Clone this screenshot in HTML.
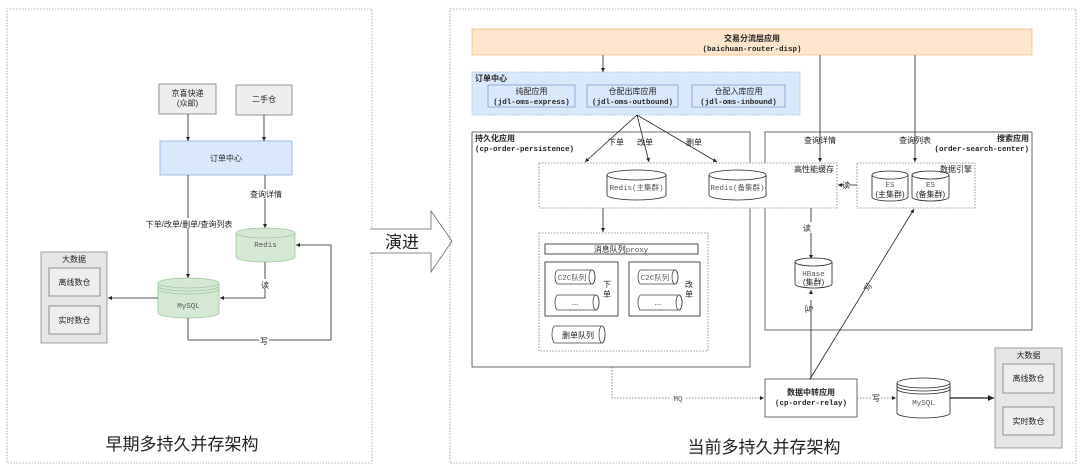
<!DOCTYPE html>
<html><head><meta charset="utf-8"><style>
html,body{margin:0;padding:0;background:#fff}
svg{display:block}
text{font-family:"Liberation Sans","Noto Sans CJK SC",sans-serif;font-size:8px;fill:#222}
.m{font-family:"Liberation Mono","Noto Sans CJK SC",monospace;font-weight:bold;font-size:7.5px}
.g{font-family:"Liberation Mono","Noto Sans CJK SC",monospace;font-size:7.5px;fill:#555}
</style></head><body>
<svg width="1080" height="471" viewBox="0 0 1080 471" xmlns="http://www.w3.org/2000/svg">
<defs>
<marker id="a" markerWidth="6" markerHeight="6" refX="5" refY="3" orient="auto"><path d="M0,0.5 L5,3 L0,5.5z" fill="#222"/></marker>
</defs>
<g fill="none" stroke="#222" stroke-width="0.8">
<!-- LEFT PANEL -->
<rect x="7" y="9" width="365" height="454" stroke="#999" stroke-dasharray="1.5,1.5"/>
<rect x="159" y="84" width="57" height="30" fill="#eee" stroke="#777"/>
<rect x="236" y="85" width="56" height="30" fill="#eee" stroke="#777"/>
<rect x="160" y="141" width="132" height="34" fill="#dae8fc" stroke="#8aaee0"/>
<line x1="188" y1="114" x2="188" y2="141" marker-end="url(#a)"/>
<line x1="264" y1="115" x2="264" y2="141" marker-end="url(#a)"/>
<line x1="188" y1="175" x2="188" y2="278" marker-end="url(#a)"/>
<line x1="265" y1="175" x2="265" y2="228" marker-end="url(#a)"/>
<path d="M236,233 v24 a29.5,5 0 0 0 59,0 v-24" fill="#d5e8d4" stroke="#9cc89a"/>
<ellipse cx="265.5" cy="233" rx="29.5" ry="5" fill="#d5e8d4" stroke="#9cc89a"/>
<path d="M158,283 v30 a30.5,5 0 0 0 61,0 v-30" fill="#d5e8d4" stroke="#9cc89a"/>
<ellipse cx="188.5" cy="283" rx="30.5" ry="5" fill="#d5e8d4" stroke="#9cc89a"/>
<path d="M158,286 a30.5,5 0 0 0 61,0 M158,289 a30.5,5 0 0 0 61,0" stroke="#9cc89a"/>
<path d="M265,262 V298 H220" marker-end="url(#a)"/>
<path d="M188,318 V340 H331 V245 H296" marker-end="url(#a)"/>
<line x1="158" y1="298" x2="108" y2="298" marker-end="url(#a)"/>
<rect x="41" y="252" width="66" height="91" fill="#e6e6e6" stroke="#888"/>
<rect x="49" y="268" width="51" height="28" fill="#eee" stroke="#777"/>
<rect x="49" y="306" width="51" height="28" fill="#eee" stroke="#777"/>
<!-- 演进 arrow -->
<path d="M370,229 H431 V211 L452,241 L431,272 V253 H370" fill="#fff" stroke="#666"/>
<!-- RIGHT PANEL -->
<rect x="450" y="9" width="626" height="454" stroke="#999" stroke-dasharray="1.5,1.5"/>
<rect x="472" y="29" width="560" height="26" fill="#ffe6cc" stroke="#f0c080"/>
<line x1="603" y1="55" x2="603" y2="72" marker-end="url(#a)"/>
<rect x="472" y="72" width="328" height="43" fill="#dae8fc" stroke="#8aaee0" stroke-dasharray="1.5,1.5"/>
<rect x="488" y="85" width="87" height="22" fill="#dae8fc" stroke="#7a9ed0"/>
<rect x="587" y="85" width="91" height="22" fill="#dae8fc" stroke="#7a9ed0"/>
<rect x="692" y="85" width="93" height="22" fill="#dae8fc" stroke="#7a9ed0"/>
<rect x="472" y="132" width="278" height="235" stroke="#444"/>
<rect x="765" y="132" width="267" height="198" stroke="#444"/>
<line x1="637" y1="115" x2="585" y2="162" marker-end="url(#a)"/>
<line x1="637" y1="115" x2="649" y2="162" marker-end="url(#a)"/>
<line x1="637" y1="115" x2="717" y2="162" marker-end="url(#a)"/>
<line x1="820" y1="55" x2="820" y2="162" marker-end="url(#a)"/>
<line x1="915" y1="55" x2="915" y2="162" marker-end="url(#a)"/>
<rect x="539" y="163" width="298" height="45" fill="#fff" stroke="#777" stroke-dasharray="1.5,1.5"/>
<rect x="857" y="163" width="118" height="45" fill="#fff" stroke="#777" stroke-dasharray="1.5,1.5"/>
<path d="M607,175 v20 a29.5,5 0 0 0 59,0 v-20"/><ellipse cx="636.5" cy="175" rx="29.5" ry="5" fill="#fff"/>
<path d="M709,175 v20 a28.5,5 0 0 0 57,0 v-20"/><ellipse cx="737.5" cy="175" rx="28.5" ry="5" fill="#fff"/>
<path d="M872,175 v22 a18,4 0 0 0 36,0 v-22"/><ellipse cx="890" cy="175" rx="18" ry="4" fill="#fff"/>
<path d="M912,175 v22 a18.5,4 0 0 0 37,0 v-22"/><ellipse cx="930.5" cy="175" rx="18.5" ry="4" fill="#fff"/>
<line x1="857" y1="185" x2="849" y2="185"/>
<line x1="843" y1="185" x2="838" y2="185" marker-end="url(#a)"/>
<line x1="603" y1="208" x2="603" y2="232" marker-end="url(#a)"/>
<line x1="811" y1="208" x2="811" y2="222"/>
<line x1="811" y1="233" x2="811" y2="259" marker-end="url(#a)"/>
<path d="M795,262 v22 a18.5,4 0 0 0 37,0 v-22"/><ellipse cx="813.5" cy="262" rx="18.5" ry="4" fill="#fff"/>
<rect x="539" y="233" width="169" height="118" stroke="#777" stroke-dasharray="1.5,1.5"/>
<rect x="545" y="244" width="153" height="10"/>
<rect x="545" y="262" width="73" height="54"/>
<rect x="629" y="262" width="71" height="54"/>
<g stroke="#444">
<path d="M558,270 H592 a3,7 0 0 1 0,14 H558 a3,7 0 0 1 0,-14z"/><ellipse cx="592" cy="277" rx="3" ry="7"/>
<path d="M558,295 H596 a3,7.5 0 0 1 0,15 H558 a3,7.5 0 0 1 0,-15z"/><ellipse cx="596" cy="302.5" rx="3" ry="7.5"/>
<path d="M641,270 H675 a3,7 0 0 1 0,14 H641 a3,7 0 0 1 0,-14z"/><ellipse cx="675" cy="277" rx="3" ry="7"/>
<path d="M641,295 H679 a3,7.5 0 0 1 0,15 H641 a3,7.5 0 0 1 0,-15z"/><ellipse cx="679" cy="302.5" rx="3" ry="7.5"/>
<path d="M555,326 H602 a3,8.5 0 0 1 0,17 H555 a3,8.5 0 0 1 0,-17z"/><ellipse cx="602" cy="334.5" rx="3" ry="8.5"/>
</g>
<rect x="765" y="379" width="92" height="38" fill="#fff" stroke="#444"/>
<line x1="811" y1="379" x2="811" y2="300"/>
<line x1="811" y1="292" x2="811" y2="290" marker-end="url(#a)"/>
<line x1="810" y1="379" x2="914" y2="209" marker-end="url(#a)"/>
<path d="M612,367 V398 H764" stroke="#666" stroke-dasharray="1.5,1.5" marker-end="url(#a)"/>
<line x1="857" y1="398" x2="896" y2="398" stroke="#666" stroke-dasharray="1.5,1.5" marker-end="url(#a)"/>
<path d="M897,383 v30 a26.5,5 0 0 0 53,0 v-30"/><ellipse cx="923.5" cy="383" rx="26.5" ry="5" fill="#fff"/>
<path d="M897,386 a26.5,5 0 0 0 53,0 M897,389 a26.5,5 0 0 0 53,0"/>
<line x1="950" y1="398" x2="994" y2="398" stroke-width="1.2" marker-end="url(#a)"/>
<rect x="995" y="348" width="67" height="100" fill="#e6e6e6" stroke="#888"/>
<rect x="1003" y="364" width="51" height="29" fill="#eee" stroke="#777"/>
<rect x="1003" y="407" width="51" height="28" fill="#eee" stroke="#777"/>
</g>
<!-- TEXT LEFT -->
<text x="187.5" y="96" text-anchor="middle">京喜快递</text>
<text x="187.5" y="106" text-anchor="middle">(众邮)</text>
<text x="264" y="102" text-anchor="middle">二手仓</text>
<text x="226" y="161" text-anchor="middle">订单中心</text>
<rect x="248" y="189" width="36" height="10" fill="#fff"/>
<text x="266" y="197" text-anchor="middle">查询详情</text>
<rect x="144" y="218" width="90" height="10" fill="#fff"/>
<text x="189" y="227" text-anchor="middle">下单/改单/删单/查询列表</text>
<text x="265.5" y="247" text-anchor="middle" class="g">Redis</text>
<text x="188.5" y="308" text-anchor="middle" class="g">MySQL</text>
<rect x="260" y="279" width="10" height="10" fill="#fff"/>
<text x="265" y="288" text-anchor="middle">读</text>
<rect x="259" y="335" width="10" height="10" fill="#fff"/>
<text x="264" y="344" text-anchor="middle">写</text>
<text x="74" y="262" text-anchor="middle">大数据</text>
<text x="74.5" y="285" text-anchor="middle">离线数仓</text>
<text x="74.5" y="323" text-anchor="middle">实时数仓</text>
<text x="182" y="450" text-anchor="middle" style="font-size:17px">早期多持久并存架构</text>
<text x="402" y="248" text-anchor="middle" style="font-size:17px">演进</text>
<!-- TEXT RIGHT -->
<text x="752" y="41" text-anchor="middle" style="font-weight:bold">交易分流层应用</text>
<text x="752" y="51" text-anchor="middle" class="m">(baichuan-router-disp)</text>
<text x="475" y="81" style="font-weight:bold">订单中心</text>
<text x="531.5" y="94" text-anchor="middle">纯配应用</text>
<text x="531.5" y="104" text-anchor="middle" class="m">(jdl-oms-express)</text>
<text x="632.5" y="94" text-anchor="middle">仓配出库应用</text>
<text x="632.5" y="104" text-anchor="middle" class="m">(jdl-oms-outbound)</text>
<text x="738.5" y="94" text-anchor="middle">仓配入库应用</text>
<text x="738.5" y="104" text-anchor="middle" class="m">(jdl-oms-inbound)</text>
<text x="475" y="141" style="font-weight:bold">持久化应用</text>
<text x="475" y="151" class="m">(cp-order-persistence)</text>
<text x="1029" y="141" text-anchor="end" style="font-weight:bold">搜索应用</text>
<text x="1029" y="151" text-anchor="end" class="m">(order-search-center)</text>
<text x="616" y="145" text-anchor="middle">下单</text>
<text x="645" y="145" text-anchor="middle">改单</text>
<text x="694" y="145" text-anchor="middle">删单</text>
<text x="820" y="143" text-anchor="middle">查询详情</text>
<text x="915" y="143" text-anchor="middle">查询列表</text>
<text x="834" y="172" text-anchor="end">高性能缓存</text>
<text x="972" y="172" text-anchor="end">数据引擎</text>
<text x="636.5" y="190" text-anchor="middle" class="g">Redis(主集群)</text>
<text x="737.5" y="190" text-anchor="middle" class="g">Redis(备集群)</text>
<text x="890" y="187" text-anchor="middle" class="g">ES</text>
<text x="890" y="197" text-anchor="middle">(主集群)</text>
<text x="930.5" y="187" text-anchor="middle" class="g">ES</text>
<text x="930.5" y="197" text-anchor="middle">(备集群)</text>
<text x="846" y="188" text-anchor="middle">读</text>
<text x="807" y="231" text-anchor="middle">读</text>
<text x="813.5" y="276" text-anchor="middle" class="g">HBase</text>
<text x="813.5" y="285" text-anchor="middle">(集群)</text>
<text x="809" y="312" text-anchor="middle" transform="rotate(-90 809 309)">写</text>
<text x="868" y="290" text-anchor="middle" transform="rotate(-62 868 287)">写</text>
<text x="621" y="252" text-anchor="middle">消息队列<tspan class="g">proxy</tspan></text>
<text x="572" y="280" text-anchor="middle" class="g">C2C<tspan style="font-family:'Noto Sans CJK SC',sans-serif">队列</tspan></text>
<text x="575" y="305" text-anchor="middle">...</text>
<text x="655" y="280" text-anchor="middle" class="g">C2C<tspan style="font-family:'Noto Sans CJK SC',sans-serif">队列</tspan></text>
<text x="658" y="305" text-anchor="middle">...</text>
<text x="607" y="287" text-anchor="middle">下</text>
<text x="607" y="297" text-anchor="middle">单</text>
<text x="689" y="287" text-anchor="middle">改</text>
<text x="689" y="297" text-anchor="middle">单</text>
<text x="578" y="338" text-anchor="middle">删单队列</text>
<text x="811" y="395" text-anchor="middle" style="font-weight:bold">数据中转应用</text>
<text x="811" y="405" text-anchor="middle" class="m">(cp-order-relay)</text>
<rect x="671" y="394" width="14" height="8" fill="#fff"/>
<text x="678" y="401" text-anchor="middle" class="g">MQ</text>
<rect x="871" y="394" width="10" height="8" fill="#fff"/>
<text x="876" y="401" text-anchor="middle">写</text>
<text x="923.5" y="405" text-anchor="middle" class="g">MySQL</text>
<text x="1028.5" y="358" text-anchor="middle">大数据</text>
<text x="1028.5" y="381" text-anchor="middle">离线数仓</text>
<text x="1028.5" y="424" text-anchor="middle">实时数仓</text>
<text x="764" y="453" text-anchor="middle" style="font-size:17px">当前多持久并存架构</text>
</svg>
</body></html>
